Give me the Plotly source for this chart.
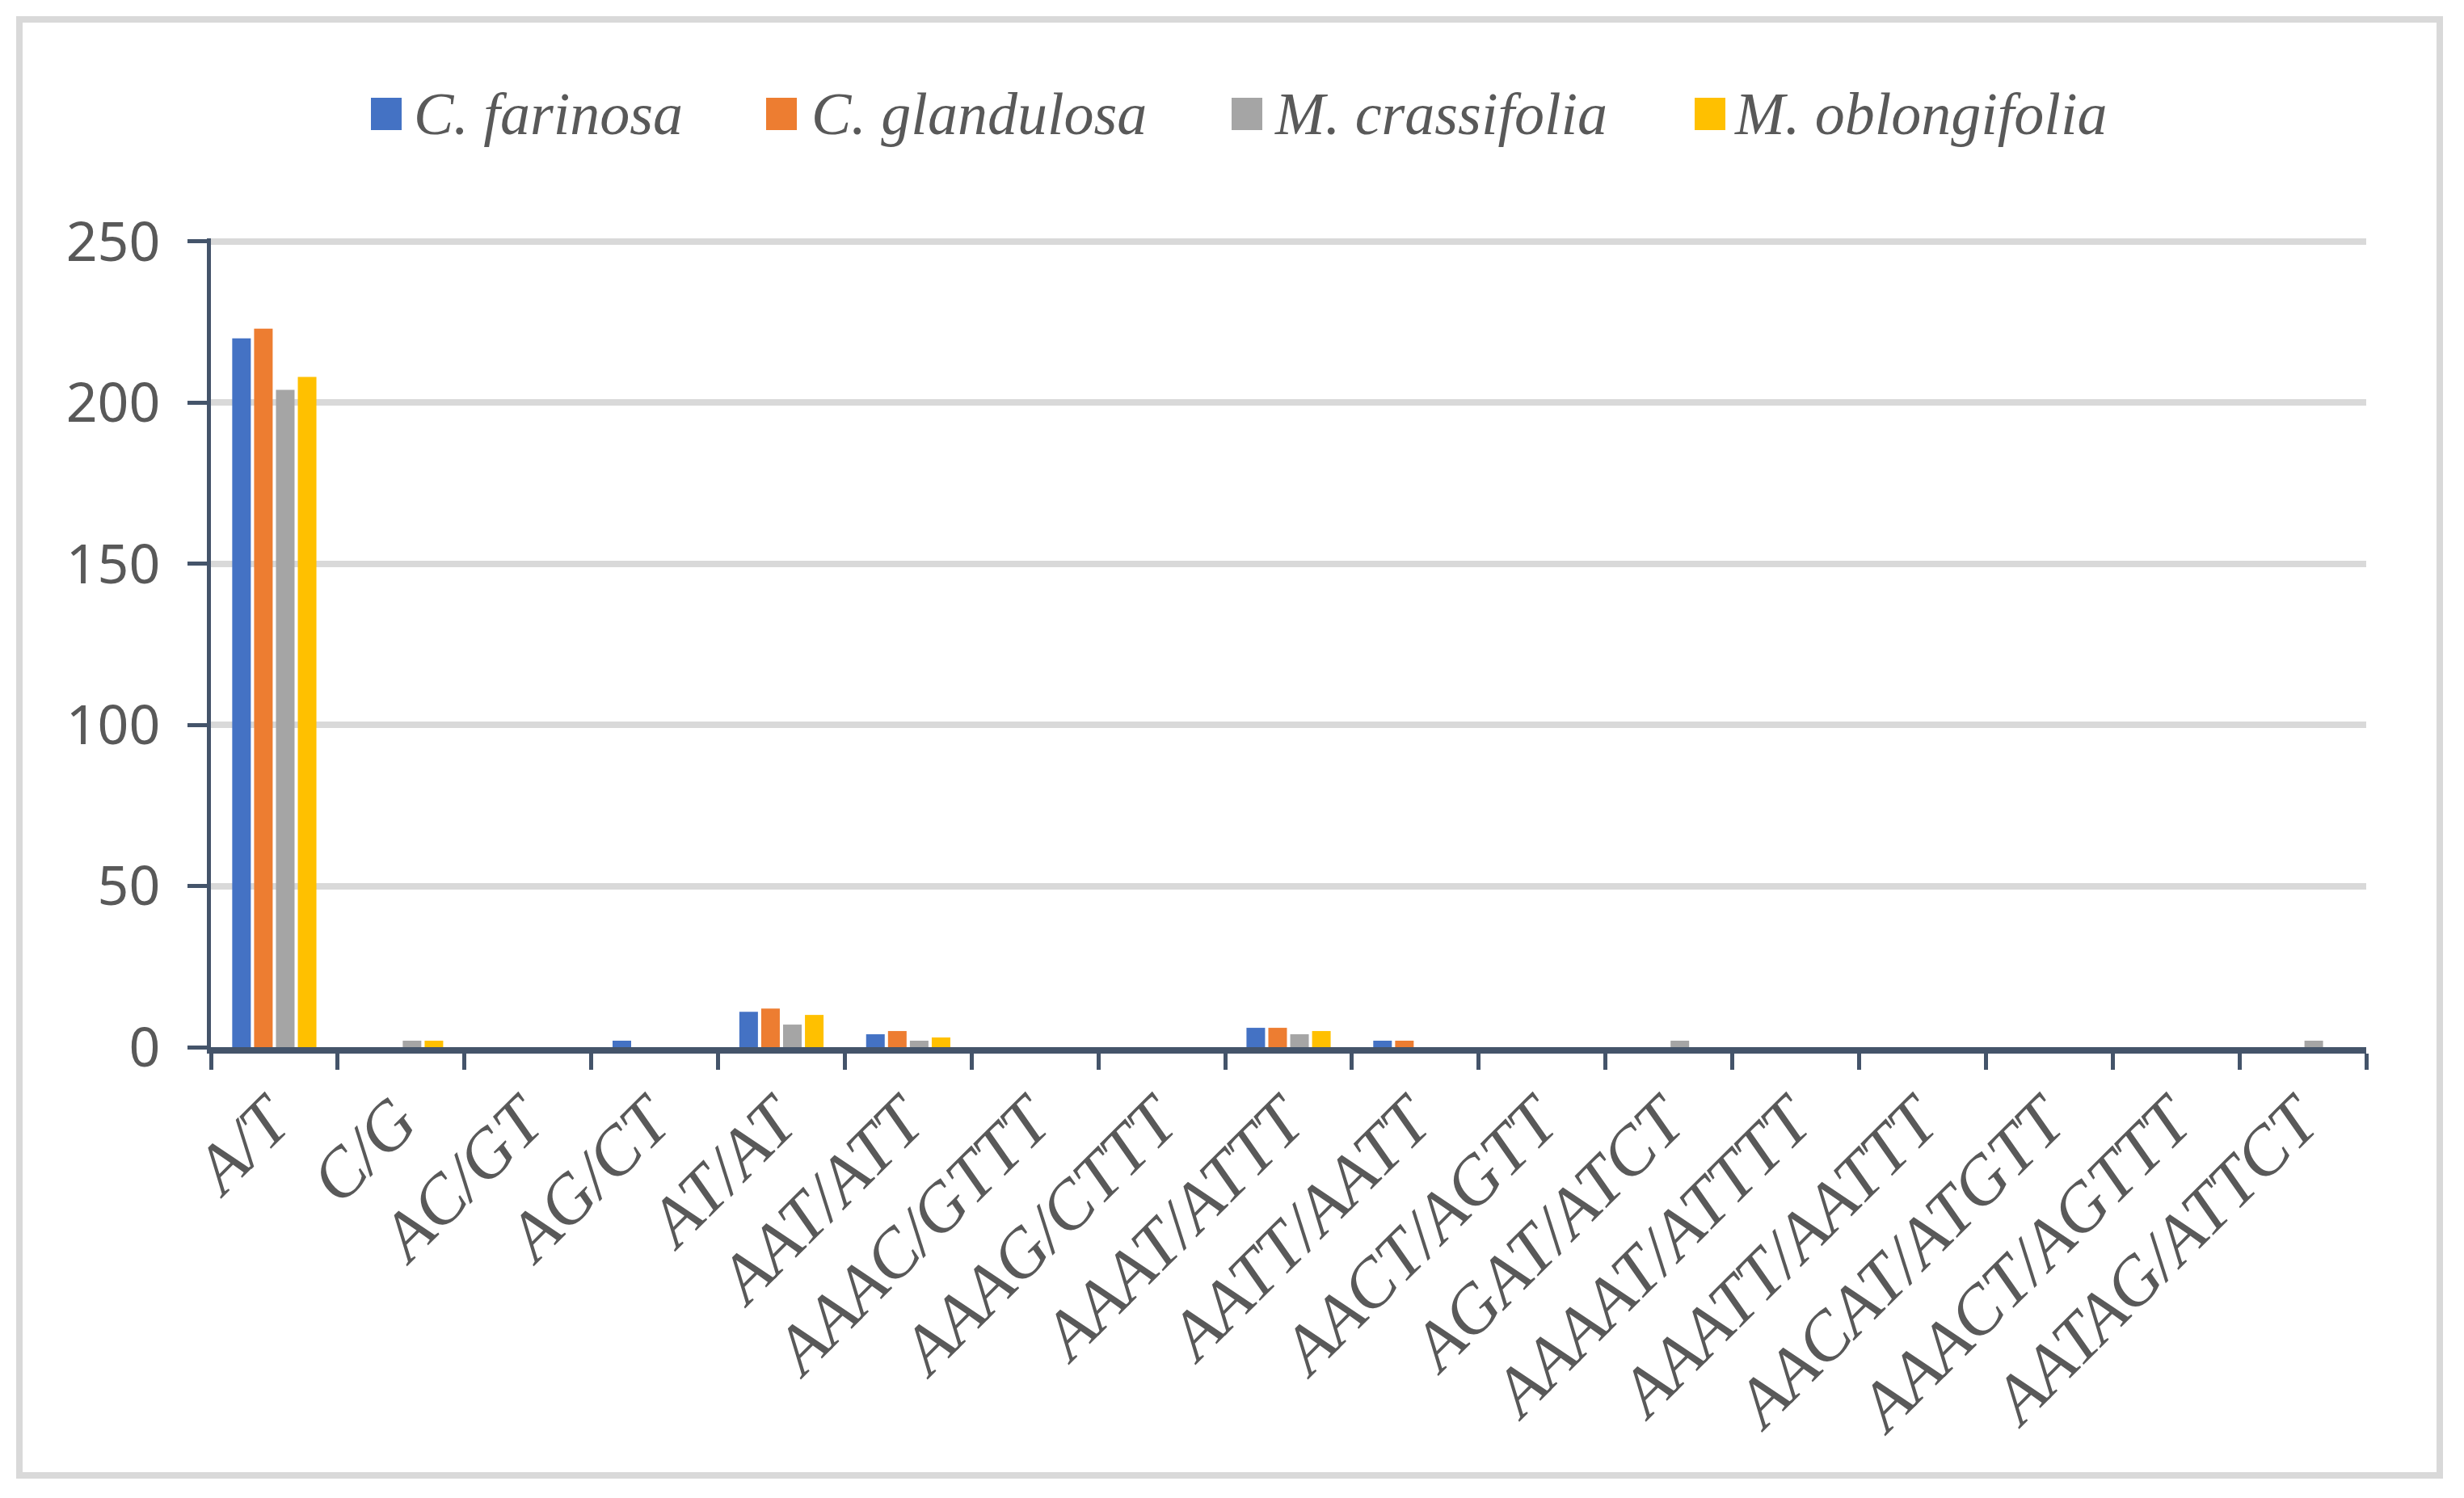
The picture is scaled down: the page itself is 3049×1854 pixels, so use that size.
import plotly.graph_objects as go

categories = ["A/T", "C/G", "AC/GT", "AG/CT", "AT/AT", "AAT/ATT", "AAAC/GTTT", "AAAG/CTTT",
              "AAAT/ATTT", "AATT/AATT", "AACT/AGTT", "AGAT/ATCT", "AAAAT/ATTTT", "AAATT/AATTT",
              "AACAT/ATGTT", "AAACT/AGTTT", "AATAG/ATTCT"]
series_names = ["C. farinosa", "C. glandulosa", "M. crassifolia", "M. oblongifolia"]
c_farinosa = [220, 0, 0, 2, 11, 4, 0, 0, 6, 2, 0, 0, 0, 0, 0, 0, 0]
c_glandulosa = [223, 0, 0, 0, 12, 5, 0, 0, 6, 2, 0, 0, 0, 0, 0, 0, 0]
m_crassifolia = [204, 2, 0, 0, 7, 2, 0, 0, 4, 0, 0, 2, 0, 0, 0, 0, 2]
m_oblongifolia = [208, 2, 0, 0, 10, 3, 0, 0, 5, 0, 0, 0, 0, 0, 0, 0, 0]
y_ticks = [0, 50, 100, 150, 200, 250]

colors = ["#4472C4", "#ED7D31", "#A5A5A5", "#FFC000"]
series_values = [c_farinosa, c_glandulosa, m_crassifolia, m_oblongifolia]

# page body margin offset (browser default 8px)
O = 8
W, H = 3049 - 2 * O, 1854 - 2 * O
L, R = 261 - O, 2928 - O   # plot area left/right (px)
T, B = 295 - O, 1296 - O   # plot area top/bottom (px)
Y_MAX = 251

def px_x(v):
    return (v - O - L) / (R - L)

def px_y(v):
    return (B - (v - O)) / (B - T)

fig = go.Figure()
for name, vals, col in zip(series_names, series_values, colors):
    fig.add_trace(go.Bar(x=categories, y=vals, name=name,
                         marker=dict(color=col, line=dict(width=0)),
                         showlegend=False))

fig.update_layout(
    width=W, height=H,
    margin=dict(l=L, r=W - R, t=T, b=H - B, pad=0),
    barmode="group", bargap=0.31, bargroupgap=0.15,
    plot_bgcolor="white", paper_bgcolor="white",
    showlegend=False,
)
fig.update_xaxes(
    showline=True, linecolor="#44546A", linewidth=8,
    ticks="outside", tickson="boundaries", ticklen=20, tickwidth=5, tickcolor="#44546A",
    tickangle=-45, ticklabelshift=-6,
    tickfont=dict(family="Liberation Serif", size=85, color="#595959", style="italic"),
    showgrid=False, zeroline=False,
)
fig.update_yaxes(
    range=[0, Y_MAX], tickvals=y_ticks,
    showline=True, linecolor="#44546A", linewidth=5,
    ticks="outside", ticklen=24, tickwidth=5, tickcolor="#44546A",
    ticklabelstandoff=20,
    tickfont=dict(family="Noto Sans", size=68, color="#595959"),
    showgrid=True, gridcolor="#D9D9D9", gridwidth=8, zeroline=False,
)

# custom legend
marker_x = [459, 948, 1524, 2097]
text_x = [510, 1002, 1575, 2144]
leg_y = 141
shapes = []
annotations = []
for mx, tx, name, col in zip(marker_x, text_x, series_names, colors):
    shapes.append(dict(type="rect", xref="paper", yref="paper",
                       x0=px_x(mx), x1=px_x(mx + 38), y0=px_y(leg_y - 20), y1=px_y(leg_y + 20),
                       fillcolor=col, line=dict(width=0)))
    annotations.append(dict(xref="paper", yref="paper", x=px_x(tx), y=px_y(leg_y),
                            xanchor="left", yanchor="middle", showarrow=False, text=name,
                            font=dict(family="Liberation Serif", size=74, color="#595959", style="italic")))

# outer border
shapes.append(dict(type="rect", xref="paper", yref="paper",
                   x0=px_x(24), x1=px_x(3019), y0=px_y(1826), y1=px_y(24),
                   line=dict(color="#D9D9D9", width=8), fillcolor="rgba(0,0,0,0)", layer="below"))

fig.update_layout(shapes=shapes, annotations=annotations)

fig.write_html("out.html")
